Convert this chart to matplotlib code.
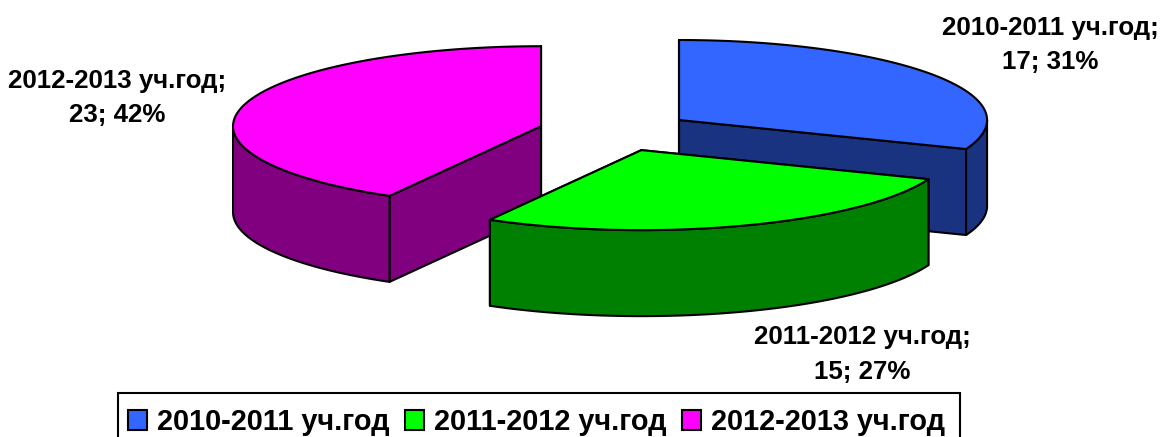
import numpy as np
import matplotlib
matplotlib.use('Agg')
import matplotlib.pyplot as plt
from matplotlib.patches import Patch, Polygon, Rectangle

years = ['2010-2011 уч.год', '2011-2012 уч.год', '2012-2013 уч.год']
values = [17, 15, 23]
top_colors = ['#3366FF', '#00FF00', '#FF00FF']
side_colors = ['#1A3380', '#008000', '#800080']

# pie geometry in pixels
cx, cy = 615.5, 131.3
rx, ry = 308, 80
depth = 86
explode = 0.25
label_pos = [(1050, 45), (862, 354.5), (117, 98)]
draw_order = [0, 2, 1]

plt.rcParams['font.family'] = ['Liberation Sans', 'DejaVu Sans']
plt.rcParams['font.weight'] = 'bold'

fig = plt.figure(figsize=(11.62, 4.37), dpi=100)
ax = fig.add_axes([0, 0, 1, 1])
ax.set_xlim(0, 1162)
ax.set_ylim(437, 0)
ax.axis('off')


def rim(ax0, ay0, t):
    return ax0 + rx * np.sin(t), ay0 - ry * np.cos(t)


total = sum(values)
edges = np.radians(np.concatenate([[0], np.cumsum(values)]) / total * 360)

for i in draw_order:
    t0, t1 = edges[i], edges[i + 1]
    mid = (t0 + t1) / 2
    x0, y0 = rim(cx, cy, mid)
    ox = cx + explode * (x0 - cx)
    oy = cy + explode * (y0 - cy)
    t = np.linspace(t0, t1, 200)
    xs, ys = rim(ox, oy, t)

    # cut faces
    for a in [t0, t1]:
        ex, ey = rim(ox, oy, a)
        face = [(ox, oy), (ex, ey), (ex, ey + depth), (ox, oy + depth)]
        ax.add_patch(Polygon(face, fc=side_colors[i], ec='k', lw=1.5, joinstyle='round'))

    # outer wall, only the part facing the viewer
    front = (t > np.pi / 2) & (t < 3 * np.pi / 2)
    if front.any():
        wx, wy = xs[front], ys[front]
        wall = np.vstack([np.column_stack([wx, wy]),
                          np.column_stack([wx[::-1], wy[::-1] + depth])])
        ax.add_patch(Polygon(wall, fc=side_colors[i], ec='k', lw=1.5, joinstyle='round'))

    # top
    top = np.vstack([[ox, oy], np.column_stack([xs, ys])])
    ax.add_patch(Polygon(top, fc=top_colors[i], ec='k', lw=1.5, joinstyle='round'))

for name, v, pos in zip(years, values, label_pos):
    ax.text(pos[0], pos[1], '%s;\n%d; %d%%' % (name, v, round(100 * v / total)),
            ha='center', va='center', fontsize=18.6, fontweight='bold',
            linespacing=1.53, color='k')

# legend frame runs off the bottom of the picture
ax.add_patch(Rectangle((118, 393), 842, 70, fc='white', ec='k', lw=1.5))
handles = [Patch(fc=c, ec='k', lw=1.5) for c in top_colors]
leg = ax.legend(handles, years, ncol=3, loc='upper left',
                bbox_to_anchor=(128 / 1162, 1 - 408 / 437), fontsize=20.8,
                frameon=False, handlelength=0.66, handleheight=0.66,
                handletextpad=0.35, columnspacing=0.53, borderpad=0, borderaxespad=0)
for txt in leg.get_texts():
    txt.set_fontweight('bold')

fig.savefig('out.png', dpi=100)
